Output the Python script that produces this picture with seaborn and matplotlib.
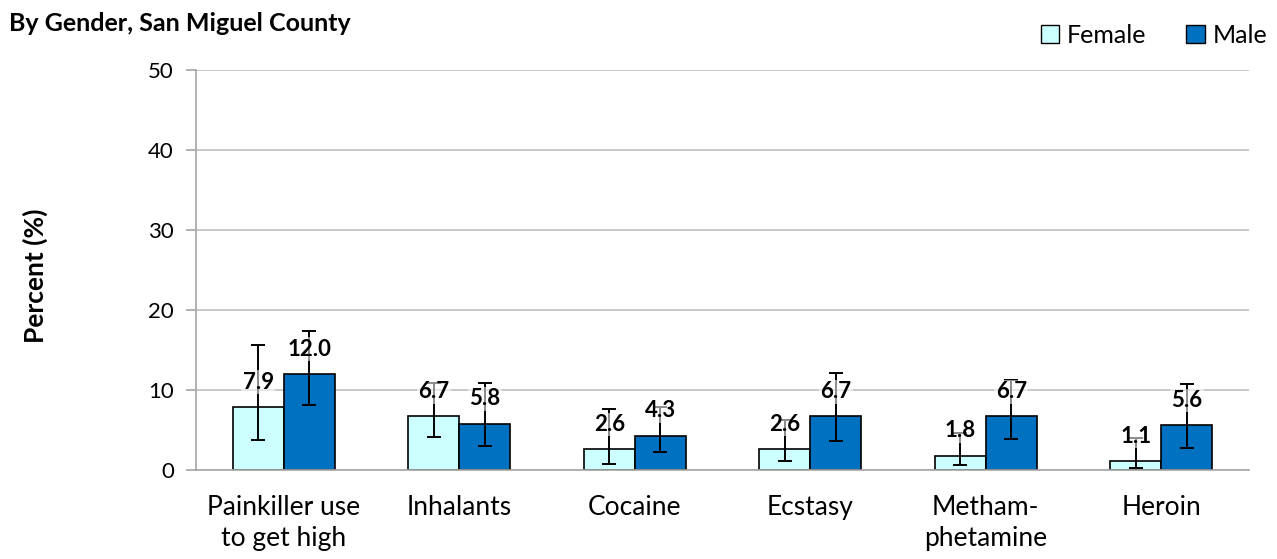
import matplotlib
matplotlib.use("Agg")
import matplotlib.pyplot as plt
import numpy as np
import pandas as pd
import seaborn as sns
from matplotlib.patches import Patch

categories = ["Painkiller use\nto get high", "Inhalants", "Cocaine", "Ecstasy",
              "Metham-\nphetamine", "Heroin"]
female = [7.9, 6.7, 2.6, 2.6, 1.8, 1.1]
male = [12.0, 5.8, 4.3, 6.7, 6.7, 5.6]
female_lo = [3.8, 4.1, 0.8, 1.1, 0.7, 0.3]
female_hi = [15.6, 10.9, 7.6, 6.2, 4.6, 4.0]
male_lo = [8.1, 3.0, 2.3, 3.6, 3.9, 2.8]
male_hi = [17.4, 10.9, 7.9, 12.1, 11.3, 10.8]

df = pd.DataFrame({
    "cat": categories * 2,
    "pct": female + male,
    "sex": ["Female"] * 6 + ["Male"] * 6,
    "lo": female_lo + male_lo,
    "hi": female_hi + male_hi,
})

colors = {"Female": "#CCFFFF", "Male": "#0070C0"}

sns.set_style("white")
plt.rcParams["font.family"] = ["Lato", "DejaVu Sans"]
plt.rcParams["text.color"] = "black"
plt.rcParams["xtick.labelcolor"] = "black"
plt.rcParams["ytick.labelcolor"] = "black"

fig = plt.figure(figsize=(12.77, 5.59), dpi=100)
ax = fig.add_axes([0.1535, 0.159, 0.8246, 0.716])

sns.barplot(data=df, x="cat", y="pct", hue="sex", order=categories,
            hue_order=["Female", "Male"], palette=colors, saturation=1,
            edgecolor="black", linewidth=1.2, width=0.58, errorbar=None,
            legend=False, ax=ax, zorder=2)

for cont, sex in zip(ax.containers, ["Female", "Male"]):
    sub = df[df["sex"] == sex].set_index("cat").loc[categories]
    xs = [b.get_x() + b.get_width() / 2 for b in cont]
    vals = sub["pct"].values
    err = [vals - sub["lo"].values, sub["hi"].values - vals]
    ax.errorbar(xs, vals, yerr=err, fmt="none", ecolor="black",
                elinewidth=1.4, capsize=5, capthick=1.4, zorder=3)
    for x, v in zip(xs, vals):
        ax.text(x, v + 3.1, f"{v:.1f}", ha="center", va="center",
                fontsize=16, fontweight="bold", color="black", zorder=4,
                bbox=dict(facecolor="white", edgecolor="none", alpha=0.55, pad=1))

ax.set_ylim(0, 50)
ax.set_yticks(range(0, 51, 10))
ax.set_xlim(-0.5, 5.5)
ax.yaxis.grid(True, color="#BFBFBF", linewidth=1.2, zorder=0)
ax.set_axisbelow(True)
for s in ["top", "right"]:
    ax.spines[s].set_visible(False)
for s in ["left", "bottom"]:
    ax.spines[s].set_color("#A6A6A6")
    ax.spines[s].set_linewidth(1.2)

ax.set_xticks(np.arange(-0.5, 6, 1), minor=True)
ax.tick_params(axis="x", which="minor", length=8, color="#A6A6A6", width=1.2)
ax.tick_params(axis="x", which="major", length=0, labelsize=19, pad=18,
               labelcolor="black")
for lab in ax.get_xticklabels():
    lab.set_linespacing(1.3)
ax.tick_params(axis="y", length=7, color="#A6A6A6", width=1.2, labelsize=16,
               left=True, pad=9, labelcolor="black")
ax.set_xlabel("")
ax.set_ylabel("")

fig.text(0.0274, 0.506, "Percent (%)", rotation=90, fontsize=19,
         fontweight="bold", ha="center", va="center", color="black")
fig.text(0.007, 0.958, "By Gender, San Miguel County", fontsize=18,
         fontweight="bold", ha="left", va="center", color="black")

handles = [Patch(facecolor=colors["Female"], edgecolor="black", label="Female"),
           Patch(facecolor=colors["Male"], edgecolor="black", label="Male")]
fig.legend(handles=handles, loc="center right", bbox_to_anchor=(1.01, 0.937),
           ncol=2, frameon=False, fontsize=18, handlelength=0.75,
           handleheight=0.75, handletextpad=0.3, columnspacing=1.6,
           labelcolor="black")

fig.savefig("out.png", dpi=100)
